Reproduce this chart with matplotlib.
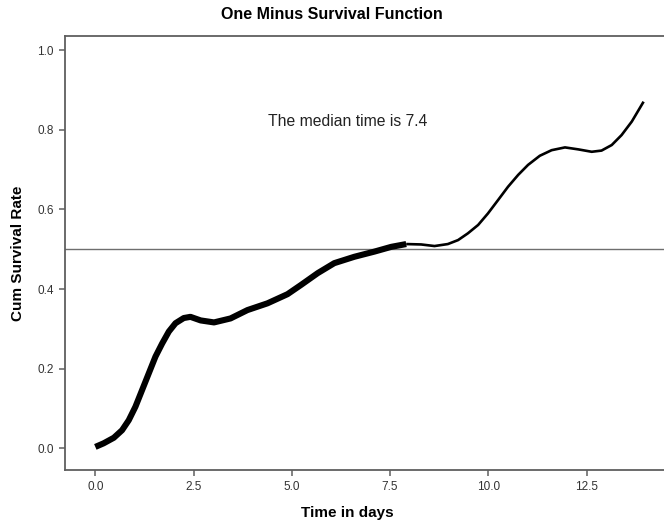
import matplotlib
matplotlib.use("Agg")
import matplotlib.pyplot as plt

# values
time_days = [0.00, 0.21, 0.47, 0.68, 0.85, 1.02, 1.19, 1.36, 1.53, 1.70,
             1.87, 2.04, 2.25, 2.42, 2.68, 3.02, 3.44, 3.87, 4.38, 4.89,
             5.23, 5.66, 6.08, 6.59, 7.10, 7.53, 7.91, 8.29, 8.63, 8.97,
             9.23, 9.48, 9.74, 9.99, 10.25, 10.50, 10.76, 11.01, 11.31, 11.61,
             11.95, 12.29, 12.63, 12.88, 13.14, 13.39, 13.65, 13.95]
cum_rate = [0.003, 0.012, 0.026, 0.045, 0.070, 0.104, 0.146, 0.188, 0.230, 0.263,
            0.293, 0.314, 0.327, 0.330, 0.321, 0.316, 0.326, 0.347, 0.364, 0.387,
            0.410, 0.440, 0.465, 0.481, 0.494, 0.506, 0.513, 0.512, 0.508, 0.513,
            0.523, 0.540, 0.561, 0.590, 0.624, 0.657, 0.687, 0.712, 0.735, 0.749,
            0.756, 0.751, 0.745, 0.748, 0.762, 0.787, 0.821, 0.871]
thick_until = 7.91  # observed part drawn heavy
median_level = 0.5
median_time = 7.4

x_ticks = [0.0, 2.5, 5.0, 7.5, 10.0, 12.5]
y_ticks = [0.0, 0.2, 0.4, 0.6, 0.8, 1.0]

plt.rcParams["font.family"] = ["Liberation Sans", "DejaVu Sans"]

fig = plt.figure(figsize=(6.64, 5.26), dpi=100)
ax = fig.add_axes([0.098, 0.1065, 0.905, 0.825])

spine_col = "#5f5f5f"
for side in ["left", "bottom", "top"]:
    ax.spines[side].set_color(spine_col)
    ax.spines[side].set_linewidth(1.3)
ax.spines["right"].set_visible(False)

ax.axhline(median_level, color="#6e6e6e", lw=1.0, zorder=1)

n = sum(1 for t in time_days if t <= thick_until)
ax.plot(time_days[:n], cum_rate[:n], color="black", lw=4.4,
        solid_capstyle="butt", solid_joinstyle="round", zorder=3)
ax.plot(time_days[n - 1:], cum_rate[n - 1:], color="black", lw=1.9,
        solid_capstyle="butt", solid_joinstyle="round", zorder=3)

ax.text(6.42, 0.821, "The median time is %.1f" % median_time,
        ha="center", va="center", fontsize=11.3, color="#222222")

ax.set_xlim(-0.77, 14.52)
ax.set_ylim(-0.055, 1.036)
ax.set_xticks(x_ticks)
ax.set_yticks(y_ticks)
ax.set_xticklabels(["%.1f" % v for v in x_ticks])
ax.set_yticklabels(["%.1f" % v for v in y_ticks])
ax.tick_params(direction="out", length=4, width=1.1, color=spine_col,
               labelsize=8.5, labelcolor="#333333", pad=4)

ax.set_xlabel("Time in days", fontsize=11, fontweight="bold")
ax.xaxis.set_label_coords(0.469, -0.083)
ax.set_ylabel("Cum Survival Rate", fontsize=11, fontweight="bold")
ax.yaxis.set_label_coords(-0.066, 0.5)
fig.text(0.5, 0.972, "One Minus Survival Function", ha="center", va="center",
         fontsize=11.5, fontweight="bold")

fig.savefig("out.png", dpi=100)
